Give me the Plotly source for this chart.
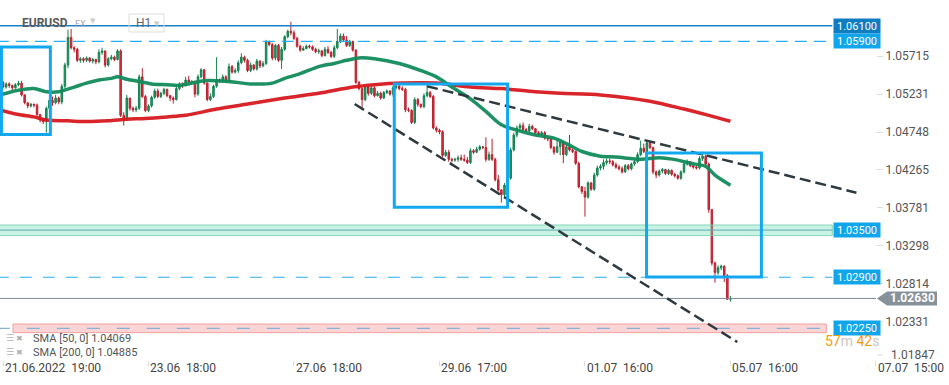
import plotly.graph_objects as go

# ---------------- data (prices in pips above 1.0000) ----------------
candle_index = list(range(-1, 236))          # hourly candle sequence number
first_open_pips = 530
close_pips = [
    538, 532, 536, 534, 531, 535, 537, 522, 512, 508,
    510, 509, 497, 490, 488, 505, 515, 512, 518, 513,
    533, 560, 595, 582, 580, 566, 568, 566, 569, 565,
    567, 564, 576, 578, 560, 568, 570, 567, 578, 496,
    490, 518, 505, 503, 505, 545, 520, 502, 508, 519,
    527, 520, 524, 529, 521, 518, 516, 530, 536, 534,
    541, 538, 539, 523, 545, 554, 537, 516, 520, 533,
    541, 540, 545, 539, 558, 551, 553, 563, 570, 566,
    553, 560, 555, 565, 559, 562, 590, 586, 569, 585,
    566, 580, 596, 603, 601, 594, 584, 579, 581, 584,
    583, 580, 577, 578, 572, 580, 576, 571, 582, 590,
    597, 592, 585, 590, 579, 538, 530, 516, 532, 524,
    531, 521, 524, 518, 525, 527, 523, 531, 533, 530,
    529, 503, 502, 487, 516, 510, 507, 521, 525, 520,
    480, 477, 475, 445, 449, 440, 439, 440, 442, 440,
    439, 436, 451, 449, 453, 456, 455, 440, 446, 440,
    414, 401, 395, 407, 416, 452, 471, 480, 483, 478,
    476, 482, 479, 474, 471, 474, 467, 466, 455, 449,
    456, 462, 446, 456, 452, 450, 435, 405, 399, 392,
    410, 402, 420, 429, 431, 436, 438, 437, 433, 430,
    428, 424, 432, 428, 434, 437, 446, 454, 450, 461,
    455, 424, 420, 425, 427, 422, 426, 421, 419, 416,
    424, 434, 437, 432, 430, 429, 441, 444, 434, 376,
    308, 296, 302, 304, 292, 262, 263,
]
high_pips = [
    541, 540, 538, 538, 535, 537, 540, 540, 523, 512,
    512, 511, 511, 498, 492, 507, 518, 520, 522, 520,
    536, 563, 605, 606, 584, 582, 570, 570, 571, 570,
    569, 568, 580, 582, 578, 570, 573, 572, 580, 580,
    500, 522, 516, 507, 508, 548, 556, 522, 510, 521,
    530, 530, 526, 531, 530, 522, 520, 533, 538, 538,
    545, 546, 541, 540, 548, 556, 555, 538, 524, 535,
    570, 543, 548, 547, 562, 560, 556, 566, 575, 572,
    568, 563, 561, 568, 566, 565, 592, 591, 588, 587,
    587, 583, 598, 605, 615, 604, 596, 586, 584, 586,
    586, 585, 582, 581, 579, 583, 584, 578, 585, 606,
    600, 600, 597, 592, 591, 580, 540, 532, 534, 534,
    534, 533, 527, 526, 527, 529, 528, 533, 536, 535,
    533, 531, 506, 504, 519, 518, 511, 524, 535, 527,
    522, 482, 479, 477, 452, 452, 442, 442, 445, 446,
    446, 443, 454, 453, 456, 458, 457, 468, 450, 466,
    442, 420, 402, 410, 420, 455, 474, 483, 486, 487,
    480, 485, 484, 480, 476, 476, 476, 469, 467, 457,
    466, 464, 463, 459, 471, 454, 451, 437, 406, 405,
    412, 411, 423, 432, 434, 440, 441, 441, 439, 436,
    433, 431, 434, 434, 436, 440, 449, 464, 460, 464,
    462, 456, 426, 427, 429, 428, 428, 427, 423, 421,
    426, 436, 440, 438, 434, 432, 444, 450, 446, 436,
    377, 310, 305, 306, 305, 294, 266,
]
low_pips = [
    528, 530, 530, 531, 528, 530, 533, 520, 510, 505,
    506, 506, 495, 487, 485, 474, 500, 508, 510, 510,
    510, 530, 556, 580, 576, 564, 563, 563, 564, 563,
    562, 561, 562, 573, 557, 558, 566, 565, 566, 494,
    483, 489, 502, 500, 500, 503, 518, 500, 500, 506,
    517, 518, 518, 522, 519, 514, 511, 515, 528, 531,
    533, 535, 536, 519, 521, 543, 535, 514, 514, 518,
    531, 537, 537, 537, 537, 549, 549, 550, 561, 563,
    551, 551, 553, 553, 556, 557, 560, 584, 566, 566,
    564, 555, 578, 594, 598, 592, 582, 577, 578, 580,
    581, 578, 575, 574, 570, 571, 574, 569, 569, 580,
    588, 590, 583, 583, 577, 536, 528, 505, 514, 521,
    522, 519, 520, 516, 517, 523, 521, 520, 529, 528,
    527, 500, 500, 485, 485, 507, 505, 505, 519, 518,
    478, 474, 472, 443, 443, 437, 436, 437, 437, 438,
    437, 434, 434, 447, 448, 451, 453, 437, 438, 438,
    412, 399, 385, 390, 404, 414, 450, 468, 476, 476,
    474, 475, 477, 472, 469, 469, 465, 463, 453, 446,
    448, 445, 435, 444, 450, 448, 433, 403, 396, 367,
    390, 400, 400, 418, 426, 427, 433, 434, 431, 428,
    426, 422, 423, 426, 426, 432, 435, 444, 448, 449,
    453, 421, 416, 418, 422, 420, 420, 419, 417, 414,
    414, 422, 432, 430, 428, 427, 427, 438, 432, 372,
    305, 283, 293, 299, 284, 261, 259,
]

sma50_index = [-1, 5, 10, 14, 18, 23, 27, 31, 35, 37, 40, 44, 48, 53, 57, 65, 73, 80,
               87, 91, 96, 102, 107, 111, 115, 120, 128, 135, 140, 145, 151, 156, 161,
               167, 172, 178, 182, 187, 193, 198, 206, 212, 218, 222, 227, 230, 235]
sma50_pips = [522, 528, 530, 526, 526, 532, 537, 541, 543, 545, 542, 539, 536, 535, 534,
              540, 539, 536, 537, 543, 549, 558, 562, 566, 569, 568, 562, 553, 545, 532,
              517, 501, 484, 476, 471, 467, 460, 450, 444, 443, 440, 442, 439, 435, 431,
              420, 407]
sma200_index = [-1, 5, 10, 14, 21, 27, 34, 40, 46, 53, 59, 69, 80, 91, 102, 113, 120, 129,
                140, 151, 161, 172, 180, 193, 209, 220, 228, 235]
sma200_pips = [503, 497, 494, 490, 489, 488, 489, 491, 492, 494, 496, 504, 511, 518, 524,
               532, 535, 537, 537, 532, 530, 526, 524, 522, 514, 504, 496, 488.5]

tick_index = [0, 47, 94, 141, 188, 235, 282]
tick_text = ["21.06.2022\u00a0\u00a019:00", "23.06\u00a0\u00a018:00", "27.06\u00a0\u00a018:00",
             "29.06\u00a0\u00a017:00", "01.07\u00a0\u00a016:00", "05.07\u00a0\u00a016:00",
             "07.07\u00a0\u00a015:00"]
price_ticks = [1.05715, 1.05231, 1.04748, 1.04265, 1.03781, 1.03298, 1.02814, 1.02331]
bottom_price_tick = 1.01847

level_1061 = 1.061
level_1059 = 1.059
level_1035 = 1.035
level_1029 = 1.029
level_10225 = 1.0225
current_price = 1.0263

# trend lines: (index, pips)
upper_trend = [(137, 533), (275.7, 397.6)]
lower_trend = [(113.6, 510.4), (237.2, 207.6)]
# highlight boxes: (index0, index1, pips_top, pips_bottom)
boxes = [(-0.5, 15.3, 583, 471.6), (126.4, 163, 535.9, 379), (207.9, 245, 448, 290.3)]

sma_labels = ["SMA [50, 0] 1.04069", "SMA [200, 0] 1.04885"]


def to_price(p):
    return round(1.0 + p / 10000.0, 5)


opens = [first_open_pips] + close_pips[:-1]
o = [to_price(v) for v in opens]
c = [to_price(v) for v in close_pips]
h = [to_price(max(a, b, d)) for a, b, d in zip(high_pips, opens, close_pips)]
l = [to_price(min(a, b, d)) for a, b, d in zip(low_pips, opens, close_pips)]

# ---------------- layout geometry ----------------
W, H = 949, 385
ML, MR, MT, MB = 0, 73, 0, 25
PW, PH = W - ML - MR, H - MT - MB
Y_MIN, Y_MAX = 1.018468, 1.064276
X_MIN, X_MAX = -0.968, 282.02
FONT = "Roboto, Arial, sans-serif"


def px(x):
    return x / PW


def py(y):
    return 1 - y / PH


def pyp(price):
    return (price - Y_MIN) / (Y_MAX - Y_MIN)


def pxi(i):
    return (i - X_MIN) / (X_MAX - X_MIN)


fig = go.Figure()
fig.add_trace(go.Candlestick(
    x=candle_index, open=o, high=h, low=l, close=c,
    increasing=dict(fillcolor="#1f9e66", line=dict(color="#12804f", width=1)),
    decreasing=dict(fillcolor="#e0313f", line=dict(color="#b8202e", width=1)),
    whiskerwidth=0, hoverinfo="skip", showlegend=False,
))
fig.add_trace(go.Scatter(
    x=sma200_index, y=[to_price(v) for v in sma200_pips], mode="lines",
    line=dict(color="#d7191f", width=3.5, shape="spline", smoothing=0.8),
    hoverinfo="skip", showlegend=False, opacity=0.95,
))
fig.add_trace(go.Scatter(
    x=sma50_index, y=[to_price(v) for v in sma50_pips], mode="lines",
    line=dict(color="#138c5c", width=3.5, shape="spline", smoothing=0.8),
    hoverinfo="skip", showlegend=False, opacity=0.95,
))

shapes = []
x_label = (833 - 3) / 3.098
# level lines
shapes.append(dict(type="line", xref="x", yref="y", x0=-2, x1=x_label, y0=level_1061, y1=level_1061,
                   line=dict(color="#1a80c4", width=1.5), layer="above"))
shapes.append(dict(type="line", xref="x", yref="y", x0=-2, x1=x_label, y0=level_1059, y1=level_1059,
                   line=dict(color="#28aef0", width=1.2, dash="12px,7px"), layer="above"))
shapes.append(dict(type="rect", xref="x", yref="y", x0=-2, x1=x_label, y0=level_1035 - 0.0007,
                   y1=level_1035 + 0.00065, fillcolor="rgba(110,220,180,0.38)",
                   line=dict(color="rgba(110,205,175,0.8)", width=1), layer="above"))
shapes.append(dict(type="line", xref="x", yref="y", x0=-2, x1=x_label, y0=level_1035, y1=level_1035,
                   line=dict(color="#68a9b8", width=1), layer="above"))
shapes.append(dict(type="line", xref="x", yref="y", x0=-2, x1=x_label, y0=level_1029, y1=level_1029,
                   line=dict(color="#28aef0", width=1.2, dash="12px,11px"), layer="above"))
shapes.append(dict(type="line", xref="x", yref="y", x0=-2, x1=X_MAX + 1, y0=current_price, y1=current_price,
                   line=dict(color="#7f8a91", width=1), layer="above"))
band_x0 = (13 - 3) / 3.098
band_x1 = (827 - 3) / 3.098
shapes.append(dict(type="rect", xref="x", yref="y", x0=band_x0, x1=band_x1, y0=level_10225 - 0.00055,
                   y1=level_10225 + 0.00055, fillcolor="rgba(248,190,190,0.65)",
                   line=dict(color="#f0a0a0", width=1), layer="above"))
shapes.append(dict(type="line", xref="x", yref="y", x0=-2, x1=band_x1, y0=level_10225, y1=level_10225,
                   line=dict(color="#86b2d8", width=1.2, dash="13px,17px"), layer="above"))
# trend lines
for (x0, p0), (x1, p1) in [upper_trend, lower_trend]:
    shapes.append(dict(type="line", xref="x", yref="y", x0=x0, x1=x1, y0=to_price(p0), y1=to_price(p1),
                       line=dict(color="#2f3a40", width=2.5, dash="11px,5px"), layer="above"))
# boxes
for x0, x1, pt, pb in boxes:
    shapes.append(dict(type="rect", xref="x", yref="y", x0=x0, x1=x1, y0=to_price(pb), y1=to_price(pt),
                       line=dict(color="#12a8ef", width=3), fillcolor="rgba(0,0,0,0)", layer="above"))
# current price tag (pentagon)
yc = pyp(current_price)
hh = 7 / PH
shapes.append(dict(type="path", xref="paper", yref="paper",
                   path=(f"M {px(877)},{yc} L {px(887)},{yc + hh} L {px(937)},{yc + hh} "
                         f"L {px(937)},{yc - hh} L {px(887)},{yc - hh} Z"),
                   fillcolor="#87919a", line=dict(width=0), layer="above"))
# H1 selector box
shapes.append(dict(type="rect", xref="paper", yref="paper", x0=px(129), x1=px(164), y0=py(32), y1=py(14),
                   line=dict(color="#dddddd", width=1), fillcolor="rgba(0,0,0,0)", layer="above"))
# bottom tick for clamped label
shapes.append(dict(type="line", xref="paper", yref="paper", x0=px(877), x1=px(883), y0=py(355), y1=py(355),
                   line=dict(color="#dddddd", width=1)))

annotations = []
# x tick labels (left aligned at the tick)
for ti, tt in zip(tick_index, tick_text):
    annotations.append(dict(x=pxi(ti), y=0, xref="paper", yref="paper", xanchor="left", yanchor="top",
                            yshift=1, text=tt, showarrow=False,
                            font=dict(family=FONT, size=12, color="#444444")))
annotations.append(dict(x=px(889), y=py(355), xref="paper", yref="paper", xanchor="left", yanchor="middle",
                        text=f"{bottom_price_tick:.5f}", showarrow=False,
                        font=dict(family=FONT, size=12, color="#555555")))
# level price labels
for lvl, col in [(level_1061, "#0e7dc2"), (level_1059, "#11a5ec"), (level_1035, "#11a5ec"),
                 (level_1029, "#11a5ec"), (level_10225, "#11a5ec")]:
    annotations.append(dict(x=px(833), y=lvl, xref="paper", yref="y", xanchor="left", yanchor="middle",
                            text=f"{lvl:.5f}", showarrow=False, bgcolor=col, width=44, height=12,
                            borderpad=1, font=dict(family=FONT, size=11, color="white")))
annotations.append(dict(x=px(912), y=yc, xref="paper", yref="paper", xanchor="center", yanchor="middle",
                        text=f"<b>{current_price:.5f}</b>", showarrow=False,
                        font=dict(family=FONT, size=12, color="white")))
# header
annotations += [
    dict(x=px(20), y=py(23), text="<b>EURUSD</b>", font=dict(family=FONT, size=12, color="#5a5a5a")),
    dict(x=px(73), y=py(24), text="FX", font=dict(family=FONT, size=9, color="#aaaaaa")),
    dict(x=px(88), y=py(21), text="▼", font=dict(family="DejaVu Sans", size=7, color="#cccccc")),
    dict(x=px(134), y=py(23), text="H1", font=dict(family=FONT, size=12, color="#666666")),
    dict(x=px(152), y=py(24), text="▼", font=dict(family="DejaVu Sans", size=7, color="#cccccc")),
]
# SMA legend
for k, (lab, yy) in enumerate(zip(sma_labels, [338, 352])):
    annotations += [
        dict(x=px(4), y=py(yy), text="☰", font=dict(family="DejaVu Sans", size=9, color="#b0b0b0")),
        dict(x=px(14), y=py(yy), text="✖", font=dict(family="DejaVu Sans", size=8, color="#b0b0b0")),
        dict(x=px(31), y=py(yy), text=lab, font=dict(family=FONT, size=11, color="#555555")),
    ]
# countdown
annotations.append(dict(
    x=px(823), y=py(341),
    text=("<span style='color:#f39c12'>57</span><span style='color:#c8c8c8'>m </span>"
          "<span style='color:#f39c12'>42</span><span style='color:#c8c8c8'>s</span>"),
    font=dict(family=FONT, size=14, color="#f39c12")))
for a in annotations:
    a.setdefault("xref", "paper")
    a.setdefault("yref", "paper")
    a.setdefault("xanchor", "left")
    a.setdefault("yanchor", "middle")
    a.setdefault("showarrow", False)

fig.update_layout(
    width=W, height=H, autosize=False,
    margin=dict(l=ML, r=MR, t=MT, b=MB, pad=0),
    paper_bgcolor="white", plot_bgcolor="white",
    showlegend=False, hovermode=False,
    font=dict(family=FONT, size=12, color="#555555"),
    shapes=shapes, annotations=annotations,
    xaxis=dict(range=[X_MIN, X_MAX], showgrid=False, zeroline=False, showline=False,
               tickvals=tick_index, showticklabels=False, ticks="outside", ticklen=5,
               tickcolor="#dddddd", rangeslider=dict(visible=False), fixedrange=True),
    yaxis=dict(range=[Y_MIN, Y_MAX], side="right", showgrid=False, zeroline=False, showline=False,
               tickvals=price_ticks, ticktext=[f"{v:.5f}" for v in price_ticks],
               ticks="outside", ticklen=6, tickcolor="#dddddd", automargin=False,
               tickfont=dict(family=FONT, size=12, color="#555555"), fixedrange=True),
)

fig.write_html("out.html", config={"displayModeBar": False},
               post_script="document.body.style.margin='0';document.body.style.overflow='hidden';")
